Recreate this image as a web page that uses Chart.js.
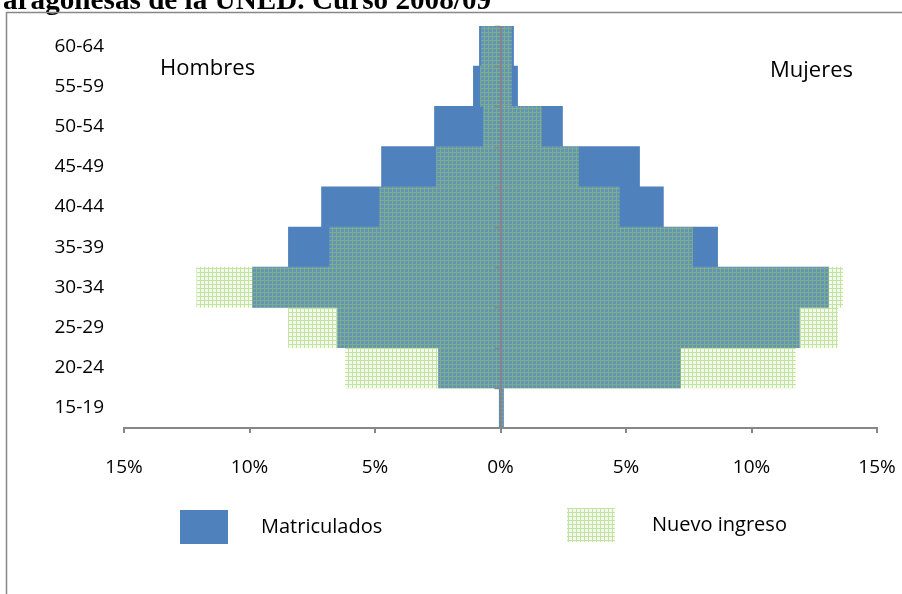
<!DOCTYPE html>
<html>
<head>
<meta charset="utf-8">
<script src="https://cdn.jsdelivr.net/npm/chart.js@4"></script>
<style>
  body { margin: 0; background: #fff; }
  #wrap { width: 902px; height: 594px; position: relative; }
</style>
</head>
<body>
<div id="wrap"><canvas id="piramide" width="902" height="594"></canvas></div>
<script>
// grupos de edad, de abajo a arriba
const edades = ['15-19', '20-24', '25-29', '30-34', '35-39', '40-44', '45-49', '50-54', '55-59', '60-64'];

// porcentajes
const hombresMatric = [0.05, 2.47, 6.49, 9.88, 8.45, 7.13, 4.74, 2.63, 1.08, 0.84];
const mujeresMatric = [0.12, 7.17, 11.91, 13.07, 8.65, 6.49, 5.54, 2.47, 0.68, 0.52];
const hombresNuevo = [0.03, 6.18, 8.45, 12.1, 6.81, 4.82, 2.55, 0.68, 0.8, 0.76];
const mujeresNuevo = [0.1, 11.75, 13.43, 13.63, 7.65, 4.74, 3.11, 1.63, 0.44, 0.44];

const ejeTicks = [-15, -10, -5, 0, 5, 10, 15];

const titulo = 'aragonesas de la UNED. Curso 2008/09';
const fuente = '"Open Sans", sans-serif';

// trama de cuadricula verde (relleno de "Nuevo ingreso")
function tramaVerde() {
    const c = document.createElement('canvas');
    c.width = 4;
    c.height = 4;
    const g = c.getContext('2d');
    g.fillStyle = 'rgba(200,228,170,0.18)';
    g.fillRect(0, 0, 4, 4);
    g.fillStyle = 'rgba(146,208,80,0.5)';
    g.fillRect(0, 0, 4, 1);
    g.fillRect(0, 1, 1, 3);
    return document.getElementById('piramide').getContext('2d').createPattern(c, 'repeat');
}

const verde = tramaVerde();
const azul = '#4F81BD';

// titulo, marco, rotulos Hombres/Mujeres y leyenda
const adornos = {
    id: 'adornos',
    beforeDraw(chart) {
        const ctx = chart.ctx;
        ctx.save();
        ctx.fillStyle = '#fff';
        ctx.fillRect(0, 0, chart.width, chart.height);

        // titulo cortado arriba
        ctx.font = 'bold 20px "Liberation Serif", serif';
        const w = ctx.measureText(titulo).width;
        const size = 20 * 489 / w;
        ctx.font = 'bold ' + size.toFixed(1) + 'px "Liberation Serif", serif';
        ctx.fillStyle = '#000';
        ctx.textBaseline = 'alphabetic';
        ctx.fillText(titulo, 3, 9);

        // marco
        ctx.strokeStyle = '#878787';
        ctx.lineWidth = 1.5;
        ctx.beginPath();
        ctx.moveTo(6.5, chart.height);
        ctx.lineTo(6.5, 12.5);
        ctx.lineTo(chart.width, 12.5);
        ctx.stroke();
        ctx.restore();
    },
    afterDraw(chart) {
        const ctx = chart.ctx;
        const y = chart.scales.y;
        const x0 = chart.scales.x.getPixelForValue(0);
        ctx.save();

        // marcas del eje vertical en cada limite de grupo
        ctx.strokeStyle = '#878787';
        ctx.lineWidth = 1.5;
        for (let i = 0; i < edades.length; i++) {
            const yy = Math.round(y.getPixelForValue(i) - (y.getPixelForValue(0) - y.getPixelForValue(1)) / 2) + 0.5;
            ctx.beginPath();
            ctx.moveTo(x0 - 6, yy);
            ctx.lineTo(x0, yy);
            ctx.stroke();
        }

        ctx.fillStyle = '#000';
        ctx.textBaseline = 'alphabetic';
        ctx.font = '22px ' + fuente;
        ctx.fillText('Hombres', 160, 75);
        ctx.fillText('Mujeres', 770, 77);

        // leyenda
        const items = chart.data.datasets;
        const cajas = [[180, 510, 261, 527], [567, 508, 652, 525]];
        ctx.font = '20px ' + fuente;
        ctx.textBaseline = 'middle';
        items.slice().sort((a, b) => b.order - a.order).forEach((ds, i) => {
            const [bx, by, tx, ty] = cajas[i];
            ctx.fillStyle = '#fff';
            ctx.fillRect(bx, by, 48, 34);
            ctx.fillStyle = ds.backgroundColor;
            ctx.fillRect(bx, by, 48, 34);
            ctx.fillStyle = '#000';
            ctx.fillText(ds.label, tx, ty);
        });
        ctx.restore();
    }
};

const graf = new Chart(document.getElementById('piramide'), {
    type: 'bar',
    data: {
        labels: edades,
        datasets: [{
            label: 'Nuevo ingreso',
            data: edades.map((e, i) => [-hombresNuevo[i], mujeresNuevo[i]]),
            backgroundColor: verde,
            order: 1
        }, {
            label: 'Matriculados',
            data: edades.map((e, i) => [-hombresMatric[i], mujeresMatric[i]]),
            backgroundColor: azul,
            order: 2
        }]
    },
    options: {
        indexAxis: 'y',
        responsive: false,
        animation: false,
        devicePixelRatio: 1,
        grouped: false,
        barPercentage: 1,
        categoryPercentage: 1,
        layout: { padding: { top: 26, right: 25, bottom: 0, left: 0 } },
        plugins: {
            legend: { display: false },
            tooltip: { enabled: false }
        },
        scales: {
            x: {
                min: -15,
                max: 15,
                z: 1,
                afterBuildTicks: s => { s.ticks = ejeTicks.map(v => ({ value: v })); },
                afterFit: s => {
                    s.height = 166;
                    s.paddingLeft = 0;
                    s.paddingRight = 0;
                },
                grid: {
                    z: 1,
                    color: c => (c.tick && c.tick.value === 0) ? '#878787' : 'rgba(0,0,0,0)',
                    tickColor: '#878787',
                    lineWidth: 2,
                    tickLength: 5
                },
                border: { display: true, color: '#878787', width: 2, z: 1 },
                ticks: {
                    callback: v => Math.abs(v) + '%',
                    color: '#000',
                    font: { family: fuente, size: 19 },
                    padding: 23,
                    maxRotation: 0
                }
            },
            y: {
                reverse: true,
                afterFit: s => {
                    s.width = 124;
                    s.paddingTop = 0;
                    s.paddingBottom = 0;
                },
                grid: { display: false },
                border: { display: false },
                ticks: {
                    color: '#000',
                    font: { family: fuente, size: 19 },
                    padding: 12
                }
            }
        }
    },
    plugins: [adornos]
});
</script>
</body>
</html>
